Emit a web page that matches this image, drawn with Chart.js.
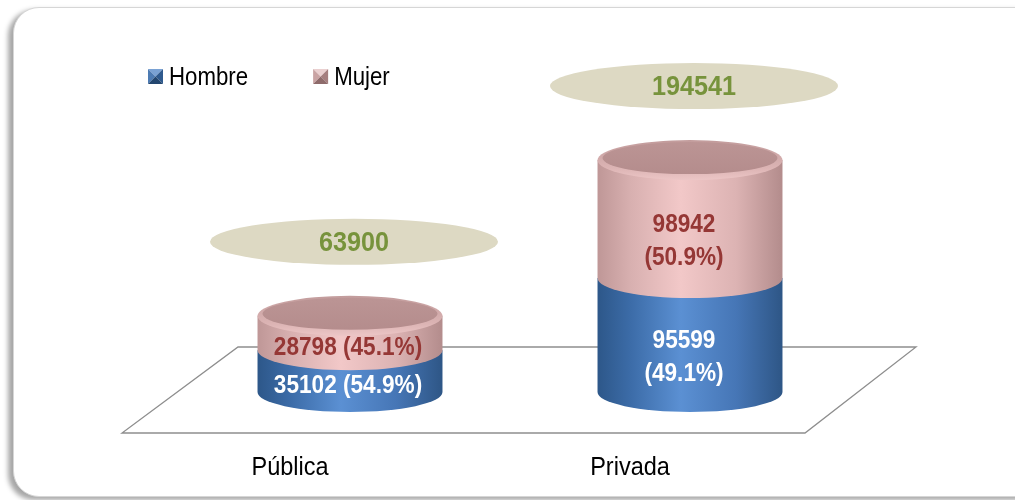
<!DOCTYPE html>
<html>
<head>
<meta charset="utf-8">
<script src="https://cdn.jsdelivr.net/npm/chart.js@4.4.0/dist/chart.umd.min.js"></script>
<style>
  html, body { margin: 0; padding: 0; background: #fff; }
  #wrap { position: relative; width: 1015px; height: 500px; overflow: hidden; }
  #frame {
    position: absolute; left: 13px; top: 7px; width: 1040px; height: 488px;
    border: 1px solid #d6d6d6; border-radius: 26px; background: #fff;
    box-shadow: -5px 3px 5px rgba(0, 0, 0, 0.35);
  }
  #chart { position: absolute; left: 0; top: 0; }
</style>
</head>
<body>
<div id="wrap">
  <div id="frame"></div>
  <canvas id="chart" width="1015" height="500"></canvas>
</div>
<script>
// datos del gráfico
const categories = ['Pública', 'Privada'];
const hombre = [35102, 95599];
const mujer = [28798, 98942];
const totals = [63900, 194541];
const pctHombre = ['54.9%', '49.1%'];
const pctMujer = ['45.1%', '50.9%'];
const seriesNames = ['Hombre', 'Mujer'];

const FONT = "'Liberation Sans', Arial, sans-serif";
const RY = 20; // alto de la elipse de los cilindros

// colores de cada serie (cuerpo, cara superior, texto)
const styles = [
    { side: ['#2d5789', '#3c6ca8', '#5b90d3', '#4676b6', '#2e5686'], top: ['#5b8fd0', '#3f6ea8'], text: '#ffffff',
      marker: ['#7aa2d4', '#4d7bb3', '#2f5a8e', '#23466f'] },
    { side: ['#bf9797', '#d8b0b0', '#f2c8c8', '#dcb3b3', '#b38c8c'], top: ['#dcb4b4', '#b38b8b'], text: '#953735',
      marker: ['#ead0d0', '#c9a3a3', '#a57f7f', '#8e6b6b'] }
];

function sideGradient(ctx, x0, x1, stops) {
    const g = ctx.createLinearGradient(x0, 0, x1, 0);
    const pos = [0, 0.18, 0.45, 0.75, 1];
    stops.forEach((c, i) => g.addColorStop(pos[i], c));
    return g;
}

// texto un poco estrecho, como Arial Narrow
function narrowText(ctx, txt, x, y, font, sx) {
    ctx.save();
    ctx.font = font;
    ctx.translate(x, y);
    ctx.scale(sx, 1);
    ctx.fillText(txt, 0, 0);
    ctx.restore();
}

// dibuja un tramo del cilindro (cuerpo + fondo curvo)
function drawBody(ctx, cx, top, base, w, st) {
    const rx = w / 2;
    ctx.beginPath();
    ctx.moveTo(cx - rx, top);
    ctx.lineTo(cx - rx, base);
    ctx.ellipse(cx, base, rx, RY, 0, Math.PI, 0, true);
    ctx.lineTo(cx + rx, top);
    ctx.closePath();
    ctx.fillStyle = sideGradient(ctx, cx - rx, cx + rx, st.side);
    ctx.fill();
}

function drawTop(ctx, cx, top, w, st) {
    const rx = w / 2;
    const g0 = ctx.createLinearGradient(0, top - RY, 0, top + RY);
    g0.addColorStop(0, '#c29c9c');
    g0.addColorStop(0.7, st.top[0]);
    g0.addColorStop(1, '#ecc6c6');
    ctx.beginPath();
    ctx.ellipse(cx, top, rx, RY, 0, 0, Math.PI * 2);
    ctx.fillStyle = g0;
    ctx.fill();
    const g = ctx.createLinearGradient(0, top - RY, 0, top + RY);
    g.addColorStop(0, '#bc9595');
    g.addColorStop(1, st.top[1]);
    ctx.beginPath();
    ctx.ellipse(cx, top - 2, rx - 5, RY - 4, 0, 0, Math.PI * 2);
    ctx.fillStyle = g;
    ctx.fill();
}

function drawMarker(ctx, x, y, s, cols) {
    const c = [x + s / 2, y + s / 2];
    const tri = (p1, p2, col) => {
        ctx.beginPath();
        ctx.moveTo(p1[0], p1[1]); ctx.lineTo(p2[0], p2[1]); ctx.lineTo(c[0], c[1]);
        ctx.closePath(); ctx.fillStyle = col; ctx.fill();
    };
    tri([x, y], [x + s, y], cols[0]);
    tri([x, y], [x, y + s], cols[1]);
    tri([x + s, y], [x + s, y + s], cols[2]);
    tri([x, y + s], [x + s, y + s], cols[3]);
}

const cylinderPlugin = {
    id: 'cylinders',
    beforeDatasetsDraw(chart) {
        const ctx = chart.ctx;
        const a = chart.chartArea;
        // piso en perspectiva
        ctx.save();
        ctx.strokeStyle = '#8e8e8e';
        ctx.lineWidth = 1.3;
        ctx.beginPath();
        ctx.moveTo(a.left - 58, a.bottom + 41);
        ctx.lineTo(a.right - 55, a.bottom + 41);
        ctx.lineTo(a.right + 56, a.bottom - 45);
        ctx.lineTo(a.left + 58, a.bottom - 45);
        ctx.closePath();
        ctx.stroke();

        // cilindros apilados
        categories.forEach((cat, i) => {
            let last = null;
            chart.data.datasets.forEach((ds, d) => {
                const el = chart.getDatasetMeta(d).data[i];
                const p = el.getProps(['x', 'y', 'base', 'width'], true);
                drawBody(ctx, p.x, p.y, p.base, p.width, styles[d]);
                last = { p, d };
            });
            drawTop(ctx, last.p.x, last.p.y, last.p.width, styles[last.d]);
        });
        ctx.restore();
        return false;
    },
    afterDraw(chart) {
        const ctx = chart.ctx;
        const a = chart.chartArea;
        ctx.save();
        ctx.textAlign = 'center';
        ctx.textBaseline = 'middle';

        categories.forEach((cat, i) => {
            const pcts = [pctHombre[i], pctMujer[i]];
            let topY = 0, cx = 0;
            chart.data.datasets.forEach((ds, d) => {
                const p = chart.getDatasetMeta(d).data[i].getProps(['x', 'y', 'base', 'width'], true);
                const f = 'bold 26px ' + FONT;
                ctx.fillStyle = styles[d].text;
                const val = String(ds.data[i]);
                const pct = '(' + pcts[d] + ')';
                if (p.base - p.y > 70) {
                    const mid = (p.y + p.base) / 2 + 22;
                    narrowText(ctx, val, p.x - 6, mid - 16, f, 0.87);
                    narrowText(ctx, pct, p.x - 6, mid + 17, f, 0.87);
                } else {
                    const mid = (p.y + p.base) / 2 + 15;
                    narrowText(ctx, val + ' ' + pct, p.x - 2, mid, f, 0.87);
                }
                topY = p.y; cx = p.x;
            });

            // total en elipse
            const ey = topY - 74;
            ctx.beginPath();
            ctx.ellipse(cx + 4, ey, 144, 23, 0, 0, Math.PI * 2);
            ctx.fillStyle = '#ddd9c3';
            ctx.fill();
            ctx.fillStyle = '#77933c';
            narrowText(ctx, String(totals[i]), cx + 4, ey + 1, 'bold 28px ' + FONT, 0.9);

            // etiqueta de categoría (frente del piso)
            ctx.fillStyle = '#000';
            narrowText(ctx, cat, cx - 60, 468, '25px ' + FONT, 0.94);
        });

        // leyenda
        ctx.textAlign = 'left';
        const lf = '25px ' + FONT;
        ctx.font = lf;
        let lx = a.left - 32;
        seriesNames.forEach((name, d) => {
            drawMarker(ctx, lx, 69, 15, styles[d].marker);
            ctx.fillStyle = '#000';
            narrowText(ctx, name, lx + 21, 78, lf, 0.89);
            lx += 21 + ctx.measureText(name).width * 0.89 + 65;
        });
        ctx.restore();
    }
};

new Chart(document.getElementById('chart'), {
    type: 'bar',
    data: {
        labels: categories,
        datasets: [
            { label: seriesNames[0], data: hombre, backgroundColor: '#4f81bd' },
            { label: seriesNames[1], data: mujer, backgroundColor: '#e6b9b8' }
        ]
    },
    options: {
        responsive: false,
        animation: false,
        layout: { padding: { left: 180, right: 155, top: 94, bottom: 108 } },
        categoryPercentage: 0.544,
        barPercentage: 1,
        scales: {
            x: { stacked: true, display: false },
            y: { stacked: true, display: false, min: 0, max: 250000 }
        },
        plugins: {
            legend: { display: false },
            tooltip: { enabled: false }
        }
    },
    plugins: [cylinderPlugin]
});
</script>
</body>
</html>
